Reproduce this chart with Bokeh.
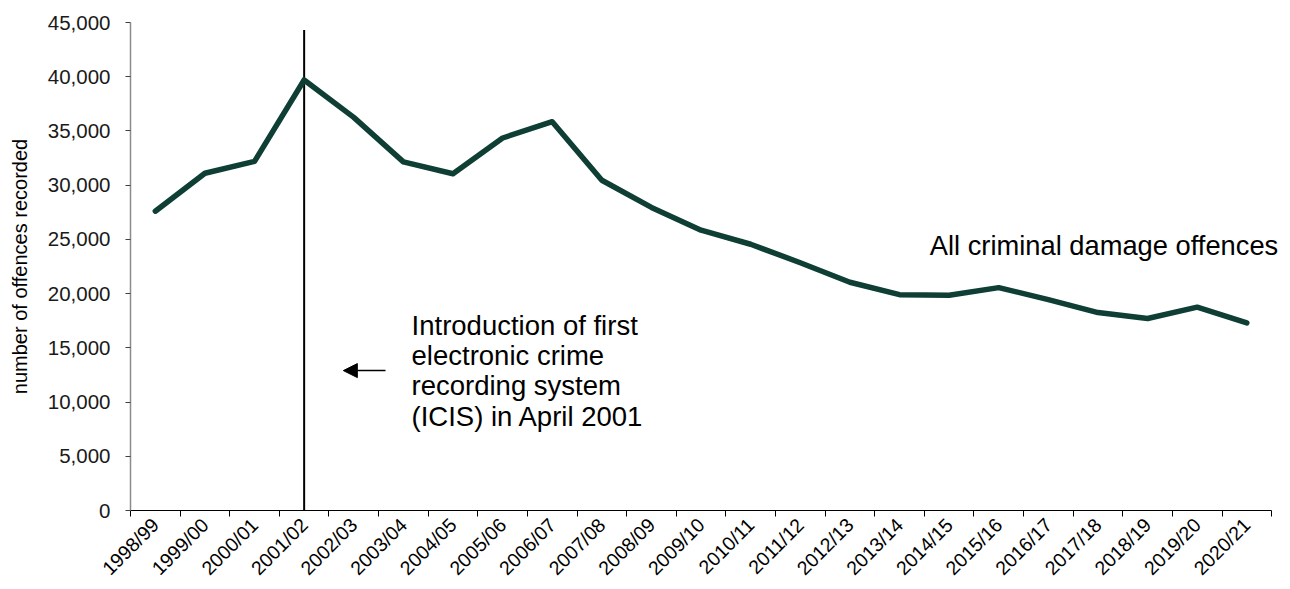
import math
import numpy as np
from bokeh.plotting import figure
from bokeh.models import (Range1d, FixedTicker, NumeralTickFormatter, Label,
                          Arrow, NormalHead, ColumnDataSource)
from bokeh.embed import file_html
from bokeh.resources import INLINE

years = ["1998/99", "1999/00", "2000/01", "2001/02", "2002/03", "2003/04",
         "2004/05", "2005/06", "2006/07", "2007/08", "2008/09", "2009/10",
         "2010/11", "2011/12", "2012/13", "2013/14", "2014/15", "2015/16",
         "2016/17", "2017/18", "2018/19", "2019/20", "2020/21"]
offences = [27600, 31100, 32200, 39700, 36250, 32150, 31050, 34350, 35850,
            30450, 27950, 25850, 24550, 22850, 21050, 19900, 19850, 20550,
            19450, 18250, 17700, 18750, 17300]
icis_year = "2001/02"
icis_line_top = 44300

FONT = "Liberation Sans"

n = len(years)
x_pos = np.arange(n) + 0.5
src = ColumnDataSource(dict(x=x_pos, y=offences, year=years))

p = figure(width=1290, height=589, output_backend="svg", toolbar_location=None,
           x_range=Range1d(0, n + 0.3), y_range=Range1d(0, 45000),
           min_border_left=130, min_border_right=4, min_border_top=22,
           min_border_bottom=79)
p.outline_line_color = None
p.xgrid.visible = False
p.ygrid.visible = False
p.background_fill_color = "white"
p.border_fill_color = "white"

# vertical ICIS line
ix = years.index(icis_year) + 0.5
p.segment(x0=[ix], y0=[0], x1=[ix], y1=[icis_line_top], line_color="black",
          line_width=2)

p.line("x", "y", source=src, line_color="#0e3e34", line_width=5.5,
       line_join="round", line_cap="round")

# x axis
xa = p.xaxis[0]
xa.bounds = (0, n)
xa.ticker = FixedTicker(ticks=list(x_pos), minor_ticks=list(range(n + 1)))
xa.major_label_overrides = {float(v): y for v, y in zip(x_pos, years)}
xa.major_label_orientation = math.pi / 4
xa.major_tick_in = 0
xa.major_tick_out = 0
xa.minor_tick_in = 0
xa.minor_tick_out = 6
xa.minor_tick_line_color = "black"
xa.minor_tick_line_width = 1
xa.axis_line_color = "black"
xa.axis_line_width = 1
xa.major_label_text_font = FONT
xa.major_label_text_font_size = "19.5px"
xa.major_label_text_color = "black"
xa.major_label_standoff = 5

# y axis
ya = p.yaxis[0]
ya.ticker = FixedTicker(ticks=list(range(0, 45001, 5000)))
ya.formatter = NumeralTickFormatter(format="0,0")
ya.minor_tick_line_color = None
ya.major_tick_in = 0
ya.major_tick_out = 5
ya.major_tick_line_color = "#404040"
ya.axis_line_color = "#8c8c8c"
ya.axis_line_width = 1.5
ya.major_label_text_font = FONT
ya.major_label_text_font_size = "20.5px"
ya.major_label_text_color = "#1a1a1a"
ya.major_label_standoff = 15
ya.axis_label = "number of offences recorded"
ya.axis_label_text_font = FONT
ya.axis_label_text_font_size = "20px"
ya.axis_label_text_font_style = "normal"
ya.axis_label_text_color = "black"
ya.axis_label_standoff = 14

# annotations
p.add_layout(Label(x=5.665, y=12900,
                   text="Introduction of first\nelectronic crime\nrecording system\n(ICIS) in April 2001",
                   text_font=FONT, text_font_size="27.5px", text_color="black",
                   text_baseline="middle", text_align="left",
                   text_line_height=0.98))
p.add_layout(Arrow(end=NormalHead(size=14, fill_color="black",
                                  line_color="black"),
                   x_start=5.14, y_start=12900, x_end=4.29, y_end=12900,
                   line_color="black", line_width=1.5))
p.add_layout(Label(x=16.11, y=24400, text="All criminal damage offences",
                   text_font=FONT, text_font_size="27.3px", text_color="black",
                   text_baseline="middle", text_align="left"))

open("out.html", "w").write(file_html(p, INLINE))
